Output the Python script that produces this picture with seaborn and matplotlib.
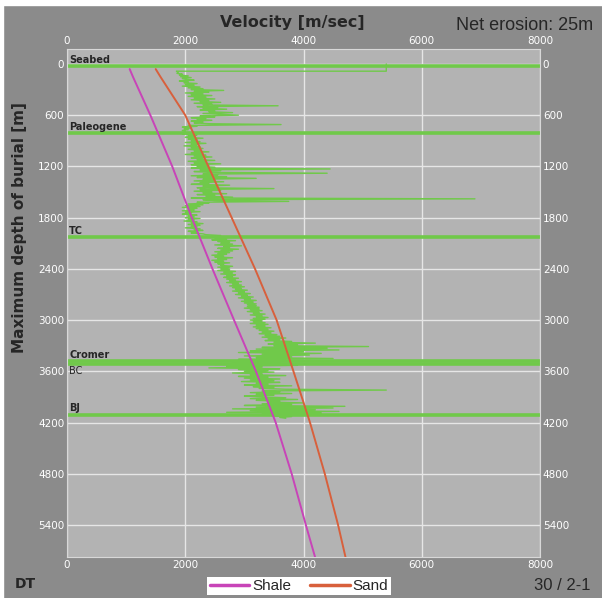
import numpy as np
import pandas as pd
import matplotlib
matplotlib.use("Agg")
import matplotlib.pyplot as plt
import seaborn as sns

# 速度-深度トレンド (Shale / Sand)
trend_depth = [60, 150, 600, 1200, 1800, 2400, 3000, 3600, 4200, 4800, 5400, 5775]
shale_vel = [1060, 1115, 1410, 1780, 2110, 2460, 2825, 3195, 3530, 3800, 4040, 4195]
sand_vel = [1500, 1580, 2000, 2390, 2785, 3180, 3545, 3830, 4110, 4360, 4585, 4710]

# DTログ: 海底付近の段差 + 10 m 間隔の読み取り値 (100 m から)
log_start = [(0, 5400), (85, 5400), (85, 1850)]
log_vel = [
    1880, 1860, 1950, 1900, 2050, 1920, 2100, 1950, 2000, 2150,
    1900, 2050, 1980, 2200, 2000, 2150, 1950, 2250, 2050, 2300,
    2100, 2650, 2150, 2400, 2000, 2300, 2100, 2450, 2050, 2350,
    2150, 2500, 2100, 2400, 2250, 2600, 2150, 2450, 2300, 3570,
    2200, 2550, 2300, 2700, 2250, 2500, 2400, 2800, 2300, 2600,
    2900, 2250, 2500, 2100, 2350, 2200, 2450, 2100, 2300, 2150,
    2400, 3620, 2050, 2200, 1950, 2100, 1980, 2050, 1950, 2000,
    2000, 2100, 1950, 2200, 2050, 2150, 2000, 2300, 2050, 2200,
    2100, 2250, 2000, 2350, 2100, 2200, 1980, 2250, 2100, 2300,
    2050, 2250, 2150, 2400, 2100, 2300, 2000, 2350, 2150, 2450,
    2100, 2300, 2200, 2500, 2050, 2350, 2150, 2600, 2100, 2400,
    2200, 2500, 2100, 4450, 2250, 2600, 2150, 2400, 4400, 2300,
    2550, 2100, 2700, 2200, 3200, 2300, 2500, 2150, 2650, 2250,
    2400, 2100, 2750, 2300, 2550, 2200, 3500, 2250, 2600, 2150,
    2450, 2300, 2700, 2200, 2500, 2350, 2800, 2100, 6900, 2300,
    2500, 3750, 2200, 2400, 2050, 2300, 2000, 2250, 1950, 2200,
    2050, 2150, 1950, 2250, 2000, 2100, 1950, 2200, 2050, 2150,
    2000, 2250, 2050, 2150, 1980, 2200, 2100, 2300, 2050, 2250,
    2100, 2200, 2000, 2250, 2150, 2300, 2050, 2200, 2100, 2300,
    2350, 2600, 2450, 2750, 2500, 2700, 2450, 2850, 2550, 2750,
    2600, 2800, 2500, 2950, 2650, 2750, 2550, 2900, 2600, 2800,
    2500, 2750, 2550, 2700, 2450, 2650, 2500, 2800, 2550, 2700,
    2450, 2650, 2500, 2750, 2550, 2650, 2600, 2800, 2550, 2750,
    2600, 2750, 2550, 2850, 2650, 2800, 2600, 2850, 2700, 2800,
    2650, 2900, 2700, 2850, 2750, 2950, 2700, 2900, 2800, 2950,
    2750, 3000, 2800, 2950, 2850, 3050, 2800, 3000, 2900, 3100,
    2850, 3050, 2950, 3150, 2900, 3100, 3000, 3200, 2950, 3150,
    3000, 3200, 3050, 3200, 3050, 3250, 3000, 3250, 3100, 3300,
    3050, 3250, 3150, 3350, 3100, 3300, 3200, 3400, 3150, 3350,
    3100, 3300, 3150, 3350, 3100, 3400, 3200, 3350, 3150, 3450,
    3200, 3400, 3250, 3500, 3300, 3450, 3250, 3550, 3350, 3600,
    3300, 3700, 3400, 3600, 3350, 3800, 3500, 4200, 3400, 3900,
    3500, 5100, 3300, 4400, 3200, 4600, 3100, 4000, 2900, 4300,
    3300, 4100, 3000, 3800, 3200, 4500, 2900, 3700, 3100, 3600,
    2800, 3500, 2500, 3900, 2700, 3300, 2400, 3600, 2900, 3400,
    3000, 3500, 2800, 3300, 3100, 3700, 2900, 3400, 3000, 3600,
    3100, 3500, 2950, 3600, 3200, 3400, 3000, 3800, 3150, 3500,
    3250, 3700, 5400, 3300, 3600, 3100, 3800, 3200, 3500, 3000,
    3300, 3700, 3100, 3900, 3200, 3600, 3400, 4000, 3300, 3800,
    3000, 4700, 3200, 4500, 2800, 4200, 3100, 4600, 2700, 4300,
    3300, 4000, 3500, 3800, 3600, 3700,
]
log_depth = [100 + 10 * i for i in range(len(log_vel))]

# 地層境界
top_names = ["Seabed", "Paleogene", "TC", "Cromer", "", "BJ"]
top_depths = [25, 808, 2026, 3478, 3516, 4108]

xticks = [0, 2000, 4000, 6000, 8000]
yticks = [0, 600, 1200, 1800, 2400, 3000, 3600, 4200, 4800, 5400]

outer_bg = "#8b8b8b"
plot_bg = "#b3b3b3"
green = "#70c94a"

sns.set_style("whitegrid", {"axes.facecolor": plot_bg, "grid.color": "#e6e6e6",
                            "axes.edgecolor": "#d8d8d8"})

fig = plt.figure(figsize=(6.02, 5.98), dpi=100, facecolor=outer_bg)
ax = fig.add_axes([67 / 602, 1 - 557 / 598, 473 / 602, 508 / 598])

# 地層境界線
for d in top_depths:
    ax.axhline(d, color=green, lw=2.6, zorder=2)

log_df = pd.DataFrame({
    "vel": [v for _, v in log_start] + log_vel,
    "depth": [d for d, _ in log_start] + log_depth,
})
sns.lineplot(data=log_df, x="vel", y="depth", sort=False, estimator=None,
             color=green, lw=1.0, ax=ax, zorder=3)

trend_df = pd.DataFrame({"depth": trend_depth, "Shale": shale_vel, "Sand": sand_vel})
sns.lineplot(data=trend_df, x="Shale", y="depth", sort=False, estimator=None,
             color="#c844b8", lw=1.4, ax=ax, zorder=4, label="Shale")
sns.lineplot(data=trend_df, x="Sand", y="depth", sort=False, estimator=None,
             color="#d8603c", lw=1.4, ax=ax, zorder=4, label="Sand")

ax.set_xlim(0, 8000)
ax.set_ylim(5775, -175)
ax.set_xticks(xticks)
ax.set_yticks(yticks)
ax.grid(True, lw=1.0)
ax.set_xlabel("")
ax.set_ylabel("")
ax.tick_params(axis="both", length=0, labelsize=7.5, labelcolor="white",
               top=True, right=True, labeltop=True, labelright=True, pad=2)

# 地層名
for name, d in zip(top_names, top_depths):
    if name:
        ax.text(40, d - 15, name, fontsize=7, fontweight="bold", va="bottom", ha="left", zorder=5)
ax.text(40, top_depths[4] + 20, "BC", fontsize=7, va="top", ha="left", zorder=5)

handles, labels = ax.get_legend_handles_labels()
ax.get_legend().remove()
leg = fig.legend(handles, labels, loc="center", bbox_to_anchor=(299 / 602, 1 - 586 / 598),
                 ncol=2, frameon=True, fancybox=False, edgecolor="white", facecolor="white",
                 prop={"family": "Liberation Sans", "size": 11}, handlelength=2.6,
                 borderpad=0.15, columnspacing=1.2, handletextpad=0.2, framealpha=1)
leg.get_frame().set_linewidth(0)
for line in leg.get_lines():
    line.set_linewidth(2.5)

fig.text(292 / 602, 1 - 22 / 598, "Velocity [m/sec]", ha="center", va="center",
         fontsize=11.5, fontweight="bold")
fig.text(593 / 602, 1 - 25 / 598, "Net erosion: 25m", ha="right", va="center",
         fontsize=13, family="Liberation Sans")
fig.text(20 / 602, 1 - 228 / 598, "Maximum depth of burial [m]", ha="center", va="center",
         rotation=90, fontsize=11, fontweight="bold")
fig.text(15 / 602, 1 - 584 / 598, "DT", ha="left", va="center", fontsize=10, fontweight="bold")
fig.text(590 / 602, 1 - 586 / 598, "30 / 2-1", ha="right", va="center",
         fontsize=12, family="Liberation Sans")

# 上端・左端の白い縁
fig.patches.append(plt.Rectangle((0, 1 - 5 / 598), 1, 5 / 598, transform=fig.transFigure,
                                 color="white", zorder=0))
fig.patches.append(plt.Rectangle((0, 0), 3 / 602, 1, transform=fig.transFigure,
                                 color="white", zorder=0))

fig.savefig("out.png", dpi=100, facecolor=outer_bg)
